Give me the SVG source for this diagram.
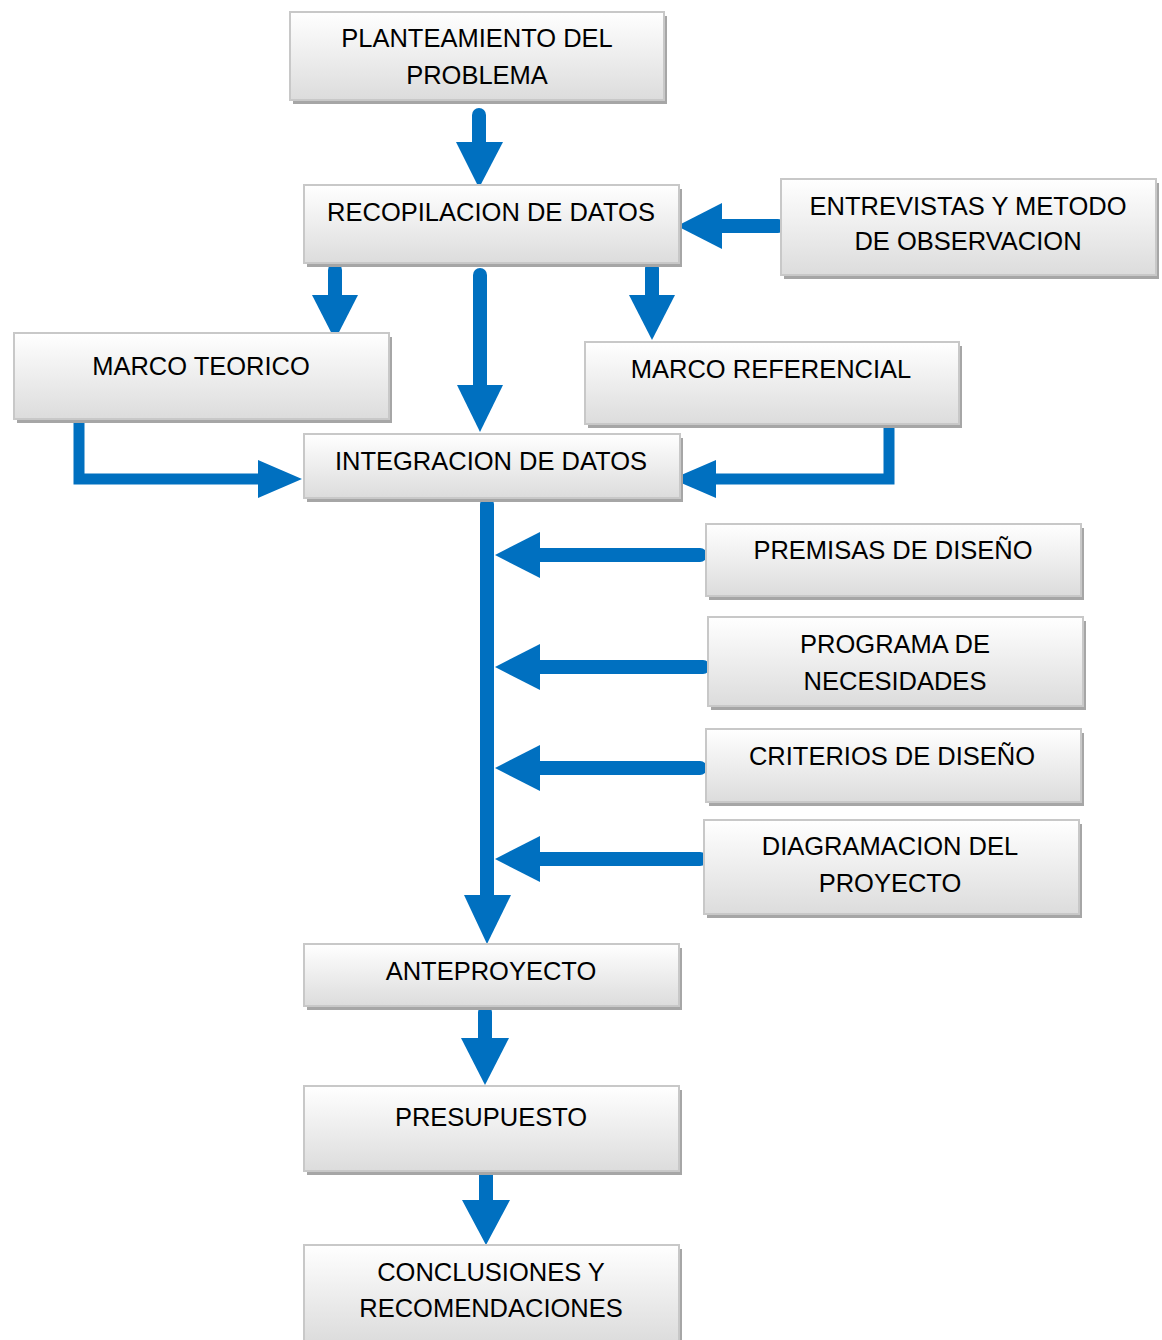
<svg xmlns="http://www.w3.org/2000/svg" width="1162" height="1340" viewBox="0 0 1162 1340">
<defs>
<linearGradient id="g" x1="0" y1="0" x2="0" y2="1">
<stop offset="0" stop-color="#ffffff"/>
<stop offset="1" stop-color="#dcdcdc"/>
</linearGradient>
<style>
.sh{fill:#a6a6a6}
.bx{fill:url(#g);stroke:#c8c8c8;stroke-width:2}
text{font-family:"Liberation Sans",Arial,sans-serif;font-size:25.5px;fill:#000;text-anchor:middle}
.s{fill:none;stroke:#0070C0;stroke-width:14;stroke-linecap:round}
.t{fill:none;stroke:#0070C0;stroke-width:11}
.h{fill:#0070C0}
</style>
</defs>
<rect width="1162" height="1340" fill="#fff"/>
<g id="connectors">
<path class="s" d="M479 115V145"/><path class="h" d="M456 142H503L479 188Z"/>
<path class="s" d="M335 270V297"/><path class="h" d="M312 295H358L335 340Z"/>
<path class="s" d="M480 275V388"/><path class="h" d="M457 385H503L480 432Z"/>
<path class="s" d="M652 268V297"/><path class="h" d="M629 295H675L652 340Z"/>
<path class="s" d="M778 226H720"/><path class="h" d="M722 203V249L677 226Z"/>
<path class="t" d="M79 422V479H262"/><path class="h" d="M258 460V498L302 479Z"/>
<path class="t" d="M889 424V479H712"/><path class="h" d="M716 460V498L672 479Z"/>
<path class="s" d="M487 504V898"/><path class="h" d="M464 895H511L487 944Z"/>
<path class="s" d="M700 555H536"/><path class="h" d="M540 532V578L495 555Z"/>
<path class="s" d="M703 667H536"/><path class="h" d="M540 644V690L495 667Z"/>
<path class="s" d="M700 768H536"/><path class="h" d="M540 745V791L495 768Z"/>
<path class="s" d="M700 859H536"/><path class="h" d="M540 836V882L495 859Z"/>
<path class="s" d="M485 1012V1040"/><path class="h" d="M461 1038H509L485 1085Z"/>
<path class="s" d="M486 1172V1202"/><path class="h" d="M462 1200H510L486 1245Z"/>
</g>
<g id="n1"><rect class="sh" x="293" y="16" width="374" height="88"/><rect class="bx" x="290" y="12" width="374" height="88"/><text x="477" y="47">PLANTEAMIENTO DEL</text><text x="477" y="84">PROBLEMA</text></g>
<g id="n2"><rect class="sh" x="307" y="189" width="375" height="78"/><rect class="bx" x="304" y="185" width="375" height="78"/><text x="491" y="221">RECOPILACION DE DATOS</text></g>
<g id="n3"><rect class="sh" x="784" y="183" width="375" height="96"/><rect class="bx" x="781" y="179" width="375" height="96"/><text x="968" y="215">ENTREVISTAS Y METODO</text><text x="968" y="250">DE OBSERVACION</text></g>
<g id="n4"><rect class="sh" x="17" y="337" width="375" height="86"/><rect class="bx" x="14" y="333" width="375" height="86"/><text x="201" y="375">MARCO TEORICO</text></g>
<g id="n5"><rect class="sh" x="588" y="346" width="374" height="82"/><rect class="bx" x="585" y="342" width="374" height="82"/><text x="771" y="378">MARCO REFERENCIAL</text></g>
<g id="n6"><rect class="sh" x="307" y="438" width="376" height="64"/><rect class="bx" x="304" y="434" width="376" height="64"/><text x="491" y="470">INTEGRACION DE DATOS</text></g>
<g id="n7"><rect class="sh" x="709" y="528" width="375" height="72"/><rect class="bx" x="706" y="524" width="375" height="72"/><text x="893" y="559">PREMISAS DE DISEÑO</text></g>
<g id="n8"><rect class="sh" x="711" y="621" width="375" height="89"/><rect class="bx" x="708" y="617" width="375" height="89"/><text x="895" y="653">PROGRAMA DE</text><text x="895" y="690">NECESIDADES</text></g>
<g id="n9"><rect class="sh" x="709" y="733" width="375" height="73"/><rect class="bx" x="706" y="729" width="375" height="73"/><text x="892" y="765">CRITERIOS DE DISEÑO</text></g>
<g id="n10"><rect class="sh" x="707" y="824" width="375" height="94"/><rect class="bx" x="704" y="820" width="375" height="94"/><text x="890" y="855">DIAGRAMACION DEL</text><text x="890" y="892">PROYECTO</text></g>
<g id="n11"><rect class="sh" x="307" y="948" width="375" height="62"/><rect class="bx" x="304" y="944" width="375" height="62"/><text x="491" y="980">ANTEPROYECTO</text></g>
<g id="n12"><rect class="sh" x="307" y="1090" width="375" height="85"/><rect class="bx" x="304" y="1086" width="375" height="85"/><text x="491" y="1126">PRESUPUESTO</text></g>
<g id="n13"><rect class="sh" x="307" y="1249" width="375" height="95"/><rect class="bx" x="304" y="1245" width="375" height="97"/><text x="491" y="1281">CONCLUSIONES Y</text><text x="491" y="1317">RECOMENDACIONES</text></g>
</svg>
